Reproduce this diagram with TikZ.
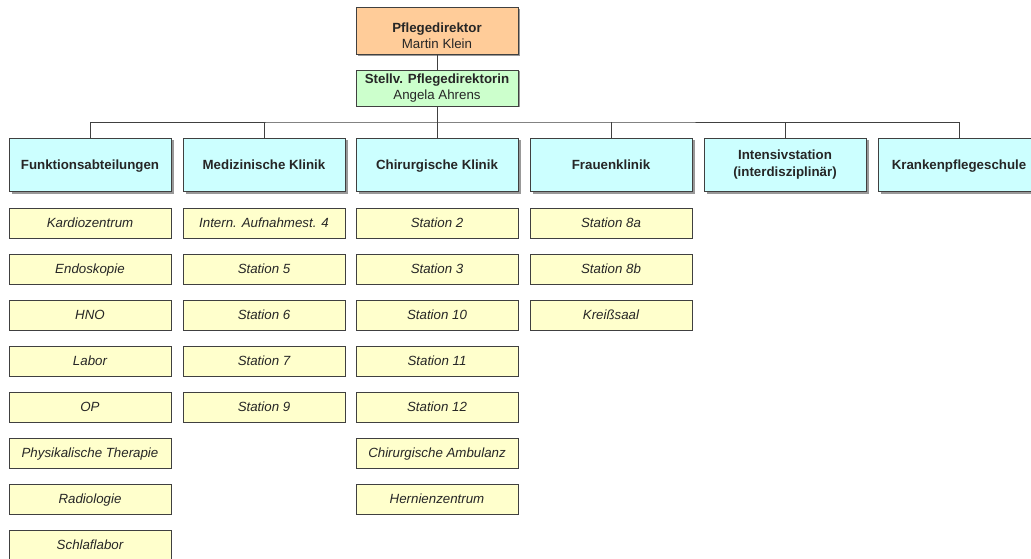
\documentclass[tikz,border=0pt]{standalone}
\usepackage{fontspec}
\setmainfont{Liberation Sans}
\usetikzlibrary{shadows}
\definecolor{orangefill}{HTML}{FFCC99}
\definecolor{greenfill}{HTML}{CCFFCC}
\definecolor{cyanfill}{HTML}{CCFFFF}
\definecolor{yellowfill}{HTML}{FFFFCC}
\definecolor{linecol}{HTML}{404040}
\begin{document}
\begin{tikzpicture}[x=1pt,y=-1pt,
  box/.style={draw=linecol,line width=0.9pt,minimum width=162pt,inner sep=0pt,align=center,
    font=\fontsize{13.3}{16.5}\selectfont,text=black!85},
  topbox/.style={box,minimum height=47pt,fill=orangefill,
    drop shadow={shadow xshift=1.5pt,shadow yshift=-1.5pt,fill=black!40,opacity=1}},
  deputybox/.style={box,minimum height=36pt,fill=greenfill,
    drop shadow={shadow xshift=1.5pt,shadow yshift=-1.5pt,fill=black!40,opacity=1}},
  deptbox/.style={box,minimum height=53pt,fill=cyanfill,font=\fontsize{13.3}{16.5}\selectfont\bfseries,
    text depth=0pt,
    drop shadow={shadow xshift=2.5pt,shadow yshift=-2.5pt,fill=black!40,opacity=1}},
  unitbox/.style={box,minimum height=30pt,fill=yellowfill,font=\fontsize{13.3}{16.5}\selectfont\itshape,
    text depth=0pt,
    drop shadow={shadow xshift=1pt,shadow yshift=-1pt,fill=black!40,opacity=1}},
  conn/.style={draw=linecol,line width=0.9pt}
]
\useasboundingbox (0,0) rectangle (1031,559);
\clip (0,0) rectangle (1031,559);

\node[topbox] (pd) at (437,31) {\rule{0pt}{19pt}\textbf{Pflegedirektor}\\Martin Klein};
\node[deputybox] (sp) at (437,88) {\textbf{Stellv. Pflegedirektorin}\\Angela Ahrens};

\node[deptbox] (h1) at (90,164.5) {Funktionsabteilungen};
\node[deptbox] (h2) at (264,164.5) {Medizinische Klinik};
\node[deptbox] (h3) at (437,164.5) {Chirurgische Klinik};
\node[deptbox] (h4) at (611,164.5) {Frauenklinik};
\node[deptbox,text depth=] (h5) at (785,164.5) {Intensivstation\\(interdisziplinär)};
\node[deptbox] (h6) at (959,164.5) {Krankenpflegeschule};

\coordinate (bus) at (437,122);
\draw[conn] (pd) -- (sp);
\draw[conn] (sp.south) -- (bus);
\draw[conn] (h1.north) |- (bus) -| (h6.north);
\foreach \h in {h2,h3,h4,h5}
  \draw[conn] (\h.north) -- (\h.north |- bus);

\foreach \t [count=\k] in {Kardiozentrum,Endoskopie,HNO,Labor,OP,Physikalische Therapie,Radiologie,Schlaflabor}
  \node[unitbox] (a\k) at (90,{223+46*(\k-1)}) {\t};
\foreach \t [count=\k] in {Intern. Aufnahmest. 4,Station 5,Station 6,Station 7,Station 9}
  \node[unitbox] (b\k) at (264,{223+46*(\k-1)}) {\t};
\foreach \t [count=\k] in {Station 2,Station 3,Station 10,Station 11,Station 12,Chirurgische Ambulanz,Hernienzentrum}
  \node[unitbox] (c\k) at (437,{223+46*(\k-1)}) {\t};
\foreach \t [count=\k] in {Station 8a,Station 8b,Kreißsaal}
  \node[unitbox] (d\k) at (611,{223+46*(\k-1)}) {\t};
\end{tikzpicture}
\end{document}
